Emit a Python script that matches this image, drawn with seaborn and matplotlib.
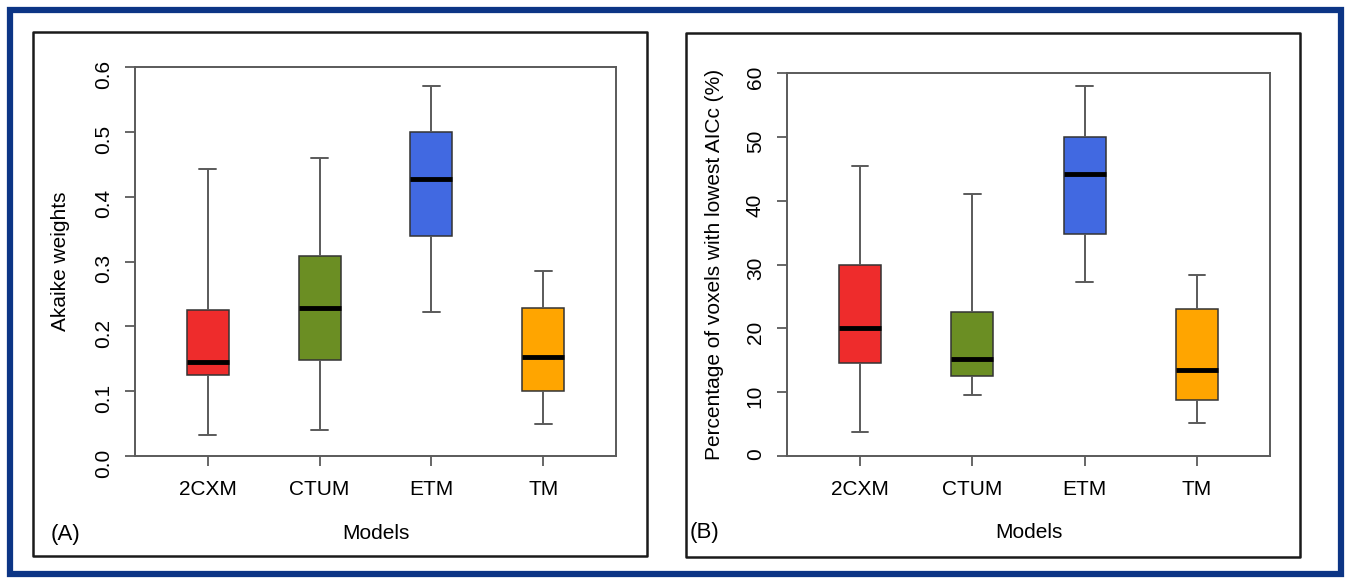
import numpy as np
import pandas as pd
import seaborn as sns
import matplotlib.pyplot as plt
from matplotlib.patches import Rectangle

models = ["2CXM", "CTUM", "ETM", "TM"]
colors = ["#EE2C2C", "#6B8E23", "#4169E1", "#FFA500"]

# five-number summaries: min, q1, median, q3, max
akaike_2cxm = [0.032, 0.125, 0.145, 0.225, 0.443]
akaike_ctum = [0.040, 0.148, 0.228, 0.308, 0.460]
akaike_etm = [0.222, 0.340, 0.428, 0.500, 0.570]
akaike_tm = [0.050, 0.100, 0.153, 0.228, 0.285]

pct_2cxm = [3.8, 14.5, 20.0, 30.0, 45.5]
pct_ctum = [9.5, 12.5, 15.2, 22.5, 41.0]
pct_etm = [27.3, 34.8, 44.2, 50.0, 58.0]
pct_tm = [5.2, 8.8, 13.5, 23.0, 28.3]

akaike_ticks = [0.0, 0.1, 0.2, 0.3, 0.4, 0.5, 0.6]
akaike_ticklabels = ["0.0", "0.1", "0.2", "0.3", "0.4", "0.5", "0.6"]
pct_ticks = [0, 10, 20, 30, 40, 50, 60]
pct_ticklabels = ["0", "10", "20", "30", "40", "50", "60"]


def long_form(groups):
    rows = []
    for name, vals in zip(models, groups):
        for v in vals:
            rows.append({"model": name, "value": v})
    return pd.DataFrame(rows)


df_a = long_form([akaike_2cxm, akaike_ctum, akaike_etm, akaike_tm])
df_b = long_form([pct_2cxm, pct_ctum, pct_etm, pct_tm])

sns.set_style("ticks")
plt.rcParams["font.family"] = ["Liberation Sans", "DejaVu Sans"]

spine_col = "#5a5a5a"
fig = plt.figure(figsize=(13.49, 5.81), dpi=100)
ax_a = fig.add_axes([0.1001, 0.2151, 0.3565, 0.6695])
ax_b = fig.add_axes([0.5834, 0.2151, 0.3580, 0.6592])


def draw_panel(ax, df, ticks, ticklabels, ylabel, ylim, ylab_x):
    sns.boxplot(
        data=df, x="model", y="value", hue="model", palette=colors,
        order=models, hue_order=models, legend=False, ax=ax,
        width=0.375, whis=(0, 100), saturation=1, showfliers=False,
        linecolor="#333333", linewidth=1.1, capwidths=0.15,
        medianprops=dict(color="black", linewidth=3.5),
        whiskerprops=dict(color=spine_col, linewidth=1.4),
        capprops=dict(color=spine_col, linewidth=1.4),
    )
    ax.set_xlim(-0.65, 3.65)
    ax.set_ylim(*ylim)
    ax.set_yticks(ticks)
    ax.set_yticklabels(ticklabels)
    ax.set_ylabel(ylabel, fontsize=15, color="black")
    ax.set_xlabel("Models", fontsize=15, color="black")
    ax.yaxis.set_label_coords(ylab_x, 0.5)
    ax.xaxis.set_label_coords(0.5, -0.175)
    ax.tick_params(axis="both", direction="out", length=7, width=1.3,
                   color=spine_col, labelsize=15, labelcolor="black")
    ax.tick_params(axis="y", labelrotation=90, pad=9)
    ax.tick_params(axis="x", pad=10)
    for s in ax.spines.values():
        s.set_color(spine_col)
        s.set_linewidth(1.4)


draw_panel(ax_a, df_a, akaike_ticks, akaike_ticklabels, "Akaike weights",
           (0, 0.6), -0.135)
draw_panel(ax_b, df_b, pct_ticks, pct_ticklabels,
           "Percentage of voxels with lowest AICc (%)", (0, 60), -0.13)

# panel frames and outer blue border
for x0, x1, y0, y1 in [(0.0245, 0.4796, 0.043, 0.9449),
                       (0.5085, 0.9637, 0.0413, 0.9432)]:
    fig.add_artist(Rectangle((x0, y0), x1 - x0, y1 - y0, transform=fig.transFigure,
                             fill=False, edgecolor="#1a1a1a", linewidth=1.8,
                             joinstyle="round"))
fig.add_artist(Rectangle((0.0074, 0.012), 0.9867, 0.9708, transform=fig.transFigure,
                         fill=False, edgecolor="#0C3585", linewidth=4.5))

fig.text(0.0378, 0.0792, "(A)", fontsize=16, ha="left", va="center", color="black")
fig.text(0.5115, 0.0843, "(B)", fontsize=16, ha="left", va="center", color="black")

fig.savefig("out.png", dpi=100, facecolor="white")
